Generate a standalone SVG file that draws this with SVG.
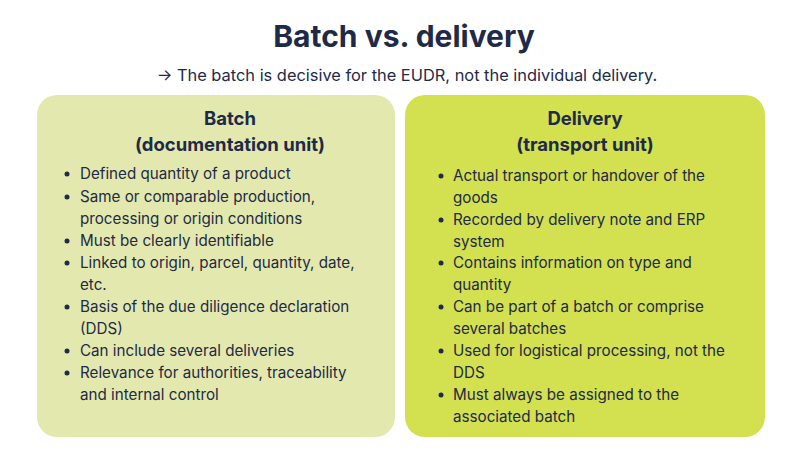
<svg xmlns="http://www.w3.org/2000/svg" width="800" height="450" viewBox="0 0 800 450">
<style>
text{font-family:Inter,"Open Sans",sans-serif;fill:#1e2a48}
.t{font-size:30px;font-weight:700}
.s{font-size:16.4px}
.h{font-size:18.5px;font-weight:700}
.b{font-size:15.2px}
</style>
<rect width="800" height="450" fill="#fff"/>
<text class="t" x="404" y="47" text-anchor="middle">Batch vs. delivery</text>
<text class="s" x="407" y="81" text-anchor="middle">→ The batch is decisive for the EUDR, not the individual delivery.</text>
<g id="batch">
<rect x="37" y="95" width="358" height="342" rx="20" fill="#e3e9ae"/>
<text class="h" x="230" y="125" text-anchor="middle">Batch</text>
<text class="h" x="230" y="151" text-anchor="middle">(documentation unit)</text>
<g fill="#1e2a48"><circle cx="67" cy="174" r="2.5"/><circle cx="67" cy="197" r="2.5"/><circle cx="67" cy="241" r="2.5"/><circle cx="67" cy="263" r="2.5"/><circle cx="67" cy="307" r="2.5"/><circle cx="67" cy="351" r="2.5"/><circle cx="67" cy="373" r="2.5"/></g>
<text class="b" x="80" y="179">Defined quantity of a product</text>
<text class="b" x="80" y="202">Same or comparable production,</text>
<text class="b" x="80" y="224">processing or origin conditions</text>
<text class="b" x="80" y="246">Must be clearly identifiable</text>
<text class="b" x="80" y="268">Linked to origin, parcel, quantity, date,</text>
<text class="b" x="80" y="290">etc.</text>
<text class="b" x="80" y="312">Basis of the due diligence declaration</text>
<text class="b" x="80" y="334">(DDS)</text>
<text class="b" x="80" y="356">Can include several deliveries</text>
<text class="b" x="80" y="378">Relevance for authorities, traceability</text>
<text class="b" x="80" y="400">and internal control</text>
</g>
<g id="delivery">
<rect x="405" y="95" width="360" height="342" rx="20" fill="#d3e04f"/>
<text class="h" x="585" y="125" text-anchor="middle">Delivery</text>
<text class="h" x="585" y="151" text-anchor="middle">(transport unit)</text>
<g fill="#1e2a48"><circle cx="441" cy="176" r="2.5"/><circle cx="441" cy="220" r="2.5"/><circle cx="441" cy="263" r="2.5"/><circle cx="441" cy="307" r="2.5"/><circle cx="441" cy="351" r="2.5"/><circle cx="441" cy="395" r="2.5"/></g>
<text class="b" x="453" y="181">Actual transport or handover of the</text>
<text class="b" x="453" y="203">goods</text>
<text class="b" x="453" y="225">Recorded by delivery note and ERP</text>
<text class="b" x="453" y="247">system</text>
<text class="b" x="453" y="268">Contains information on type and</text>
<text class="b" x="453" y="290">quantity</text>
<text class="b" x="453" y="312">Can be part of a batch or comprise</text>
<text class="b" x="453" y="334">several batches</text>
<text class="b" x="453" y="356">Used for logistical processing, not the</text>
<text class="b" x="453" y="378">DDS</text>
<text class="b" x="453" y="400">Must always be assigned to the</text>
<text class="b" x="453" y="422">associated batch</text>
</g>
</svg>
